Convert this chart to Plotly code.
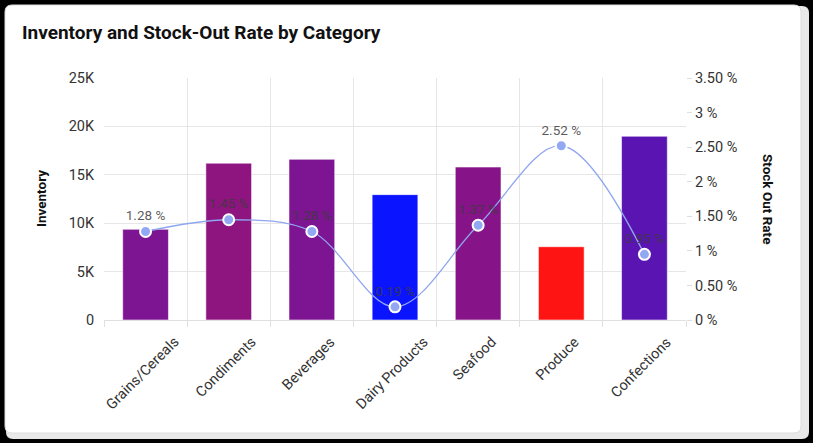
import plotly.graph_objects as go

categories = ["Grains/Cereals", "Condiments", "Beverages", "Dairy Products", "Seafood", "Produce", "Confections"]
inventory = [9370, 16200, 16600, 12950, 15800, 7570, 18980]
stock_out_rate = [1.28, 1.45, 1.28, 0.19, 1.37, 2.52, 0.95]

inv_tickvals = [0, 5000, 10000, 15000, 20000, 25000]
inv_ticktext = ["0", "5K", "10K", "15K", "20K", "25K"]
rate_tickvals = [0, 0.5, 1, 1.5, 2, 2.5, 3, 3.5]
rate_ticktext = ["0 %", "0.50 %", "1 %", "1.50 %", "2 %", "2.50 %", "3 %", "3.50 %"]

W, H = 813, 443
L, R, T, B = 104, 127, 78, 123
PW, PH = W - L - R, H - T - B


def px(x):
    return (x - L) / PW


def py(y):
    return (H - B - y) / PH


def rrect(x0, y0, x1, y1, r):
    rx = r / PW
    ry = r / PH
    X0, X1 = px(x0), px(x1)
    Y0, Y1 = py(y0), py(y1)  # Y0 top, Y1 bottom
    return (f"M {X0+rx},{Y0} L {X1-rx},{Y0} Q {X1},{Y0} {X1},{Y0-ry} "
            f"L {X1},{Y1+ry} Q {X1},{Y1} {X1-rx},{Y1} L {X0+rx},{Y1} "
            f"Q {X0},{Y1} {X0},{Y1+ry} L {X0},{Y0-ry} Q {X0},{Y0} {X0+rx},{Y0} Z")


fig = go.Figure()

fig.add_trace(go.Bar(
    x=categories, y=inventory, width=0.55,
    marker=dict(color=stock_out_rate,
                colorscale=[[0, "rgb(10,20,255)"], [1, "rgb(255,20,20)"]],
                line=dict(color="rgba(255,255,255,0.55)", width=1)),
    hoverinfo="x+y", showlegend=False,
))

fig.add_trace(go.Scatter(
    x=categories, y=stock_out_rate, yaxis="y2",
    mode="lines+markers+text",
    line=dict(color="#90a6ee", width=1.3, shape="spline", smoothing=1),
    marker=dict(size=11, color="#93a8f2", line=dict(color="white", width=2)),
    text=[f"{v:.2f} %" for v in stock_out_rate],
    textposition="top center",
    textfont=dict(family="Roboto", size=13.5, color="rgba(60,60,60,0.85)"),
    cliponaxis=False, showlegend=False,
))

shapes = [
    dict(type="path", xref="paper", yref="paper", layer="below",
         path=rrect(6, 6, 809, 439, 7), fillcolor="#e9e9e9", line=dict(width=0)),
    dict(type="path", xref="paper", yref="paper", layer="below",
         path=rrect(5, 5, 801, 433, 7), fillcolor="white",
         line=dict(color="#dddddd", width=1)),
]

tickfont = dict(family="Roboto", size=14.5, color="#333333")

annotations = [
    dict(text="<b>Inventory</b>", xref="paper", yref="paper",
         x=px(41), y=0.5, xanchor="center", yanchor="middle",
         textangle=-90, showarrow=False,
         font=dict(family="Roboto", size=13.5, color="#111111")),
    dict(text="<b>Stock Out Rate</b>", xref="paper", yref="paper",
         x=px(768), y=0.5, xanchor="center", yanchor="middle",
         textangle=90, showarrow=False,
         font=dict(family="Roboto", size=13.5, color="#111111")),
]
# category labels, rotated about their centres below each category
for c in categories:
    annotations.append(dict(text=c, xref="x", yref="paper", x=c, y=py(331),
                            xanchor="center", yanchor="top", textangle=-45,
                            xshift=-3, showarrow=False, font=tickfont))

fig.update_layout(
    width=W, height=H,
    margin=dict(l=L, r=R, t=T, b=B),
    paper_bgcolor="black", plot_bgcolor="rgba(0,0,0,0)",
    font=dict(family="Roboto", size=14, color="#333333"),
    title=dict(text="<b>Inventory and Stock-Out Rate by Category</b>",
               xref="container", yref="container", x=22 / W, xanchor="left",
               y=1 - 32 / H, yanchor="middle",
               font=dict(family="Roboto", size=19, color="#111111")),
    shapes=shapes,
    xaxis=dict(type="category", tickson="boundaries", showgrid=True,
               gridcolor="#e6e6e6", gridwidth=1, ticks="outside", ticklen=6,
               tickcolor="#e0e0e0", showticklabels=False, showline=True,
               linecolor="#e0e0e0", linewidth=1, range=[-0.5, 6.5]),
    yaxis=dict(range=[0, 25000], tickvals=inv_tickvals, ticktext=inv_ticktext,
               showgrid=True, gridcolor="#e6e6e6", gridwidth=1, zeroline=False,
               ticks="outside", ticklen=6, tickcolor="rgba(0,0,0,0)",
               tickfont=tickfont),
    yaxis2=dict(range=[0, 3.5], overlaying="y", side="right",
                tickvals=rate_tickvals, ticktext=rate_ticktext,
                showgrid=False, zeroline=False, ticks="outside", ticklen=5,
                tickcolor="#dddddd", tickfont=tickfont),
    annotations=annotations,
)

fig.write_html("out.html", config={"displayModeBar": False},
               post_script="document.body.style.margin='0';document.body.style.background='black';")
